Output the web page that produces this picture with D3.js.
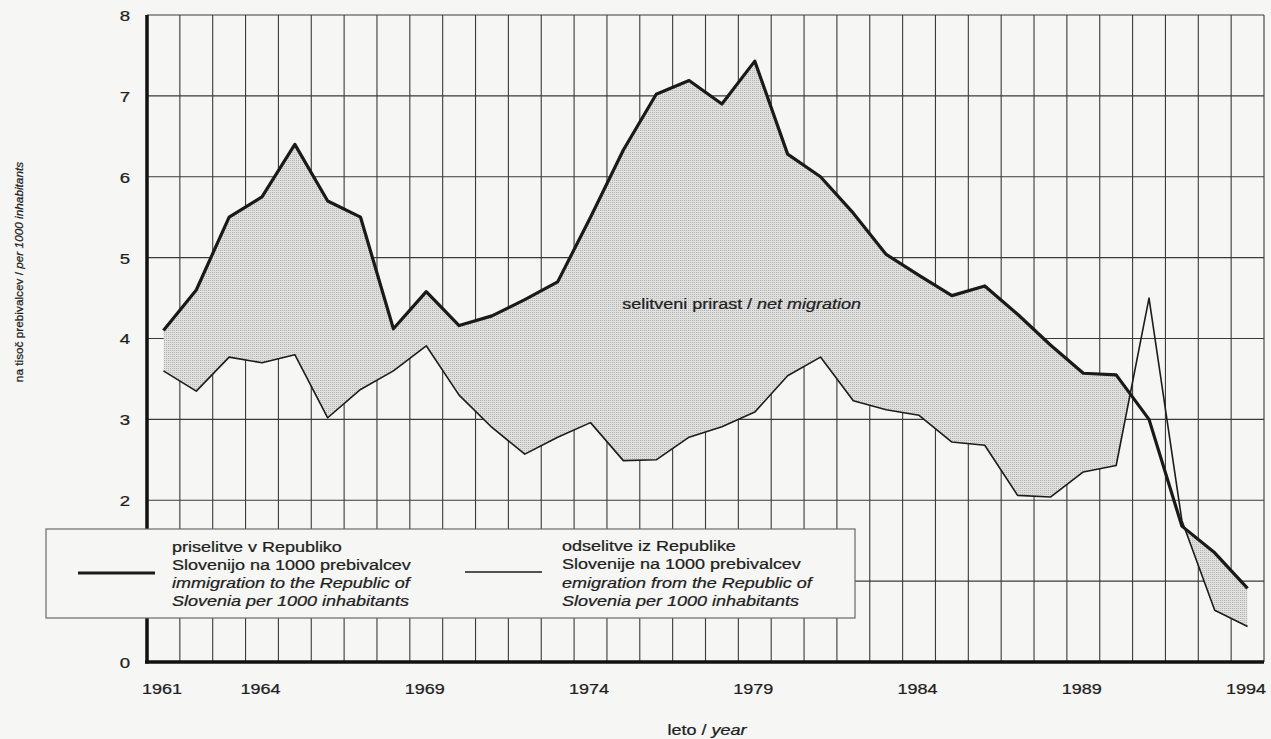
<!DOCTYPE html>
<html>
<head>
<meta charset="utf-8">
<script src="https://cdn.jsdelivr.net/npm/d3@7"></script>
<style>
  body { margin: 0; background: #f6f6f4; }
  svg { display: block; }
  text { font-family: "Liberation Sans", Arial, sans-serif; fill: #1e1e1e; stroke: #1e1e1e; stroke-width: 0.25px; }
</style>
</head>
<body>
<script>
var years = [1961,1962,1963,1964,1965,1966,1967,1968,1969,1970,1971,1972,1973,1974,1975,1976,1977,
             1978,1979,1980,1981,1982,1983,1984,1985,1986,1987,1988,1989,1990,1991,1992,1993,1994];
// priselitve / immigration per 1000 inhabitants
var immigration = [4.1,4.6,5.5,5.75,6.4,5.7,5.5,4.12,4.58,4.16,4.28,4.48,4.7,5.5,6.33,7.02,7.19,
                   6.9,7.43,6.28,6.0,5.55,5.04,4.78,4.53,4.65,4.3,3.92,3.57,3.55,3.0,1.68,1.35,0.91];
// odselitve / emigration per 1000 inhabitants
var emigration = [3.6,3.35,3.77,3.7,3.8,3.02,3.37,3.6,3.91,3.3,2.9,2.57,2.78,2.96,2.49,2.5,2.78,
                  2.91,3.09,3.54,3.77,3.23,3.12,3.05,2.72,2.68,2.06,2.04,2.35,2.43,4.5,1.75,0.64,0.44];
var yTicks = [0,1,2,3,4,5,6,7,8];
var xLabels = [1961,1964,1969,1974,1979,1984,1989,1994];
var legendImm = ["priselitve v Republiko", "Slovenijo na 1000 prebivalcev",
                 "immigration to the Republic of", "Slovenia per 1000 inhabitants"];
var legendEmi = ["odselitve iz Republike", "Slovenije na 1000 prebivalcev",
                 "emigration from the Republic of", "Slovenia per 1000 inhabitants"];

var width = 1271, height = 739;
var SX = 1.2; // the scan is a bit stretched sideways

var data = years.map(function(y, i){
  return {year: y, imm: immigration[i], emi: emigration[i]};
});

var x = d3.scaleLinear().domain([1960.5, 1994.5]).range([147, 1264]);
var y = d3.scaleLinear().domain([0, 8]).range([662, 15]);

var svg = d3.select('body').append('svg')
            .attr('width', width)
            .attr('height', height);

var defs = svg.append('defs');
var pat = defs.append('pattern')
    .attr('id', 'dots')
    .attr('width', 2).attr('height', 2)
    .attr('patternUnits', 'userSpaceOnUse');
pat.append('rect').attr('width', 2).attr('height', 2).attr('fill', '#e0e0df');
pat.append('rect').attr('width', 1).attr('height', 1).attr('fill', '#b4b4b4');

// clip: everything below the immigration line
defs.append('clipPath').attr('id', 'belowImm')
  .append('path')
  .attr('d', d3.area()
      .x(function(d){ return x(d.year); })
      .y0(y(0))
      .y1(function(d){ return y(d.imm); })(data));

// grid
var grid = svg.append('g').attr('class', 'grid');
grid.selectAll('.hline')
  .data(yTicks.slice(1))
  .enter().append('line')
    .attr('x1', x(1960.5)).attr('x2', x(1994.5))
    .attr('y1', function(d){ return y(d); })
    .attr('y2', function(d){ return y(d); })
    .attr('stroke', '#3a3a3a').attr('stroke-width', 1.1);
grid.selectAll('.vline')
  .data(d3.range(1961.5, 1995, 1))
  .enter().append('line')
    .attr('x1', function(d){ return x(d); })
    .attr('x2', function(d){ return x(d); })
    .attr('y1', y(0)).attr('y2', y(8))
    .attr('stroke', '#3a3a3a').attr('stroke-width', 1.1);

// net migration band (only where immigration is above emigration)
svg.append('path')
  .attr('clip-path', 'url(#belowImm)')
  .attr('d', d3.area()
      .x(function(d){ return x(d.year); })
      .y0(function(d){ return y(d.emi); })
      .y1(y(8))(data))
  .attr('fill', 'url(#dots)');

var lineImm = d3.line()
  .x(function(d){ return x(d.year); })
  .y(function(d){ return y(d.imm); });
var lineEmi = d3.line()
  .x(function(d){ return x(d.year); })
  .y(function(d){ return y(d.emi); });

svg.append('path').attr('d', lineEmi(data))
  .attr('fill', 'none').attr('stroke', '#1c1c1c').attr('stroke-width', 1.6)
  .attr('stroke-linejoin', 'round');
svg.append('path').attr('d', lineImm(data))
  .attr('fill', 'none').attr('stroke', '#1a1a1a').attr('stroke-width', 3.2)
  .attr('stroke-linejoin', 'round');

// axes
var yAxis = d3.axisLeft(y).tickValues(yTicks).tickSize(0).tickPadding(0);
var xAxis = d3.axisBottom(x).tickValues(xLabels).tickSize(0).tickPadding(0).tickFormat(d3.format('d'));

var gy = svg.append('g').attr('transform', 'translate(147,0)').call(yAxis);
gy.select('.domain').remove();
gy.selectAll('.tick text')
  .attr('x', 0).attr('dy', '0.35em')
  .attr('transform', 'translate(-17,0) scale(' + SX + ',1)')
  .style('font-size', '15.5px').style('fill', '#1e1e1e');

var gx = svg.append('g').attr('transform', 'translate(0,662)').call(xAxis);
gx.select('.domain').remove();
gx.selectAll('.tick text')
  .attr('y', 0).attr('dy', 0)
  .attr('transform', 'translate(-2,32) scale(' + SX + ',1)')
  .style('font-size', '15px').style('fill', '#1e1e1e');

svg.append('line')
  .attr('x1', 147).attr('x2', 147).attr('y1', y(8)).attr('y2', y(0) + 1.5)
  .attr('stroke', '#111').attr('stroke-width', 3.5);
svg.append('line')
  .attr('x1', 145).attr('x2', x(1994.5)).attr('y1', y(0)).attr('y2', y(0))
  .attr('stroke', '#111').attr('stroke-width', 3.5);

function label(parent, tx, ty, anchor, size) {
  return parent.append('text')
    .attr('transform', 'translate(' + tx + ',' + ty + ') scale(' + SX + ',1)')
    .attr('text-anchor', anchor)
    .style('font-size', size + 'px');
}

// net migration annotation
var nm = label(svg, x(1978.6), y(4.37), 'middle', 15);
nm.append('tspan').text('selitveni prirast / ');
nm.append('tspan').style('font-style', 'italic').text('net migration');

// axis titles
var xt = label(svg, 707, 735, 'middle', 15);
xt.append('tspan').text('leto / ');
xt.append('tspan').style('font-style', 'italic').text('year');

var yt = svg.append('text')
  .attr('transform', 'translate(23,272) rotate(-90)')
  .attr('text-anchor', 'middle')
  .style('font-size', '11.8px');
yt.append('tspan').text('na tisoč prebivalcev / ');
yt.append('tspan').style('font-style', 'italic').text('per 1000 inhabitants');

// legend
var legend = svg.append('g');
legend.append('rect')
  .attr('x', 46).attr('y', 529).attr('width', 809).attr('height', 89)
  .attr('fill', '#f6f6f4').attr('stroke', '#6a6a6a').attr('stroke-width', 1.2);

legend.append('line').attr('x1', 78).attr('x2', 155).attr('y1', 573).attr('y2', 573)
  .attr('stroke', '#1a1a1a').attr('stroke-width', 3.2);
legend.append('line').attr('x1', 465).attr('x2', 542).attr('y1', 572).attr('y2', 572)
  .attr('stroke', '#1c1c1c').attr('stroke-width', 1.6);

legendImm.forEach(function(t, i){
  label(legend, 172, 552 + i * 18, 'start', 15)
    .style('font-style', i > 1 ? 'italic' : 'normal')
    .text(t);
});
legendEmi.forEach(function(t, i){
  label(legend, 562, 551 + i * 18.3, 'start', 15)
    .style('font-style', i > 1 ? 'italic' : 'normal')
    .text(t);
});
</script>
</body>
</html>
